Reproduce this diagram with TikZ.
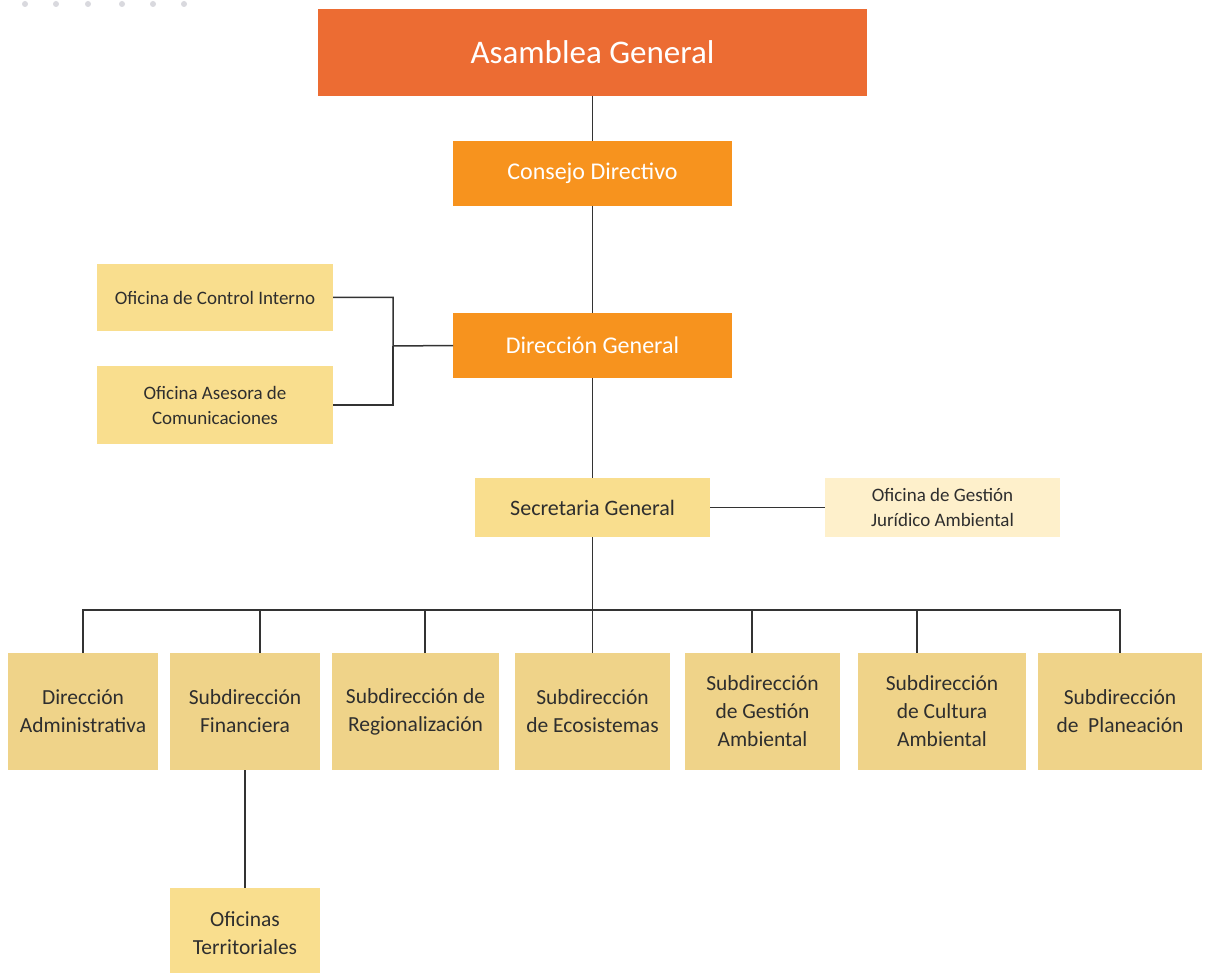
\documentclass[tikz,border=0pt]{standalone}
\usepackage{fontspec}
\setmainfont{Carlito}
\definecolor{asam}{HTML}{EC6C33}
\definecolor{dirc}{HTML}{F7931E}
\definecolor{lyel}{HTML}{F9DE8E}
\definecolor{pale}{HTML}{FEF0CB}
\definecolor{bot}{HTML}{EFD389}
\definecolor{txt}{HTML}{2E2E2E}
\definecolor{lin}{HTML}{333333}
\definecolor{dotc}{HTML}{D9D9DE}
\begin{document}
\begin{tikzpicture}[x=1pt,y=-1pt,
  box/.style={rectangle,inner sep=0pt,outer sep=0pt,align=center,text=txt,font=\fontsize{19}{25}\selectfont},
  conn/.style={draw=lin,line width=1.5pt}]
\useasboundingbox (0,0) rectangle (1206,973);
\fill[white] (0,0) rectangle (1206,973);
\foreach \x in {25,56,88,122,153,184} \fill[dotc] (\x,4) circle (3);
% top
\node[box,fill=asam,text=white,minimum width=549pt,minimum height=87pt,font=\fontsize{33}{38}\selectfont] (ag) at (592.5,52.5) {\raisebox{-3pt}{Asamblea General}};
\node[box,fill=dirc,text=white,minimum width=279pt,minimum height=65pt,font=\fontsize{24}{28}\selectfont] (cd) at (592.5,173.5) {\raisebox{-2pt}{Consejo Directivo}};
\node[box,fill=dirc,text=white,minimum width=279pt,minimum height=65pt,font=\fontsize{24}{28}\selectfont] (dg) at (592.5,345.5) {\raisebox{-2pt}{Dirección General}};
\node[box,fill=lyel,minimum width=236pt,minimum height=67pt] (ci) at (215,297.5) {Oficina de Control Interno};
\node[box,fill=lyel,minimum width=236pt,minimum height=78pt] (ac) at (215,405) {Oficina Asesora de\\Comunicaciones};
\node[box,fill=lyel,minimum width=235pt,minimum height=59pt,font=\fontsize{22}{26}\selectfont] (sg) at (592.5,507.5) {Secretaria General};
\node[box,fill=pale,minimum width=235pt,minimum height=59pt] (gj) at (942.5,507.5) {Oficina de Gestión\\Jurídico Ambiental};
% bottom row
\tikzset{bbox/.style={box,fill=bot,minimum height=117pt,font=\fontsize{21.5}{28}\selectfont}}
\node[bbox,minimum width=150pt] (da) at (83,711.5) {Dirección\\Administrativa};
\node[bbox,minimum width=150pt] (sf) at (245,711.5) {Subdirección\\Financiera};
\node[bbox,minimum width=167pt] (sr) at (415.5,711.5) {Subdirección de\\Regionalización};
\node[bbox,minimum width=155pt] (se) at (592.5,711.5) {Subdirección\\de Ecosistemas};
\node[bbox,minimum width=155pt] (sga) at (762.5,711.5) {Subdirección\\de Gestión\\Ambiental};
\node[bbox,minimum width=168pt] (sca) at (942,711.5) {Subdirección\\de Cultura\\Ambiental};
\node[bbox,minimum width=164pt] (sp) at (1120,711.5) {Subdirección\\de~ Planeación};
\node[box,fill=lyel,minimum width=150pt,minimum height=90pt,font=\fontsize{21.5}{28}\selectfont] (ot) at (245,933) {Oficinas\\Territoriales};
% connectors
\draw[conn] (ag.south) -- (cd.north);
\draw[conn] (cd.south) -- (dg.north);
\draw[conn] (dg.south) -- (sg.north);
\draw[conn] (sg.east) -- (gj.west);
\coordinate (jn) at (393,346);
\draw[conn] (ci.east) -| (jn) -- (dg.west);
\draw[conn] (ac.east) -| (jn);
\coordinate (bus) at (592.5,610);
\draw[conn] (sg.south) -- (se.north);
\draw[conn] (da.north) |- (sp.north |- bus) -- (sp.north);
\draw[conn] (sf.north -| 260,0) -- (260,610);
\draw[conn] (sr.north -| 425,0) -- (425,610);
\draw[conn] (sga.north -| 752,0) -- (752,610);
\draw[conn] (sca.north -| 917,0) -- (917,610);
\draw[conn] (sf.south) -- (ot.north);
\end{tikzpicture}
\end{document}
